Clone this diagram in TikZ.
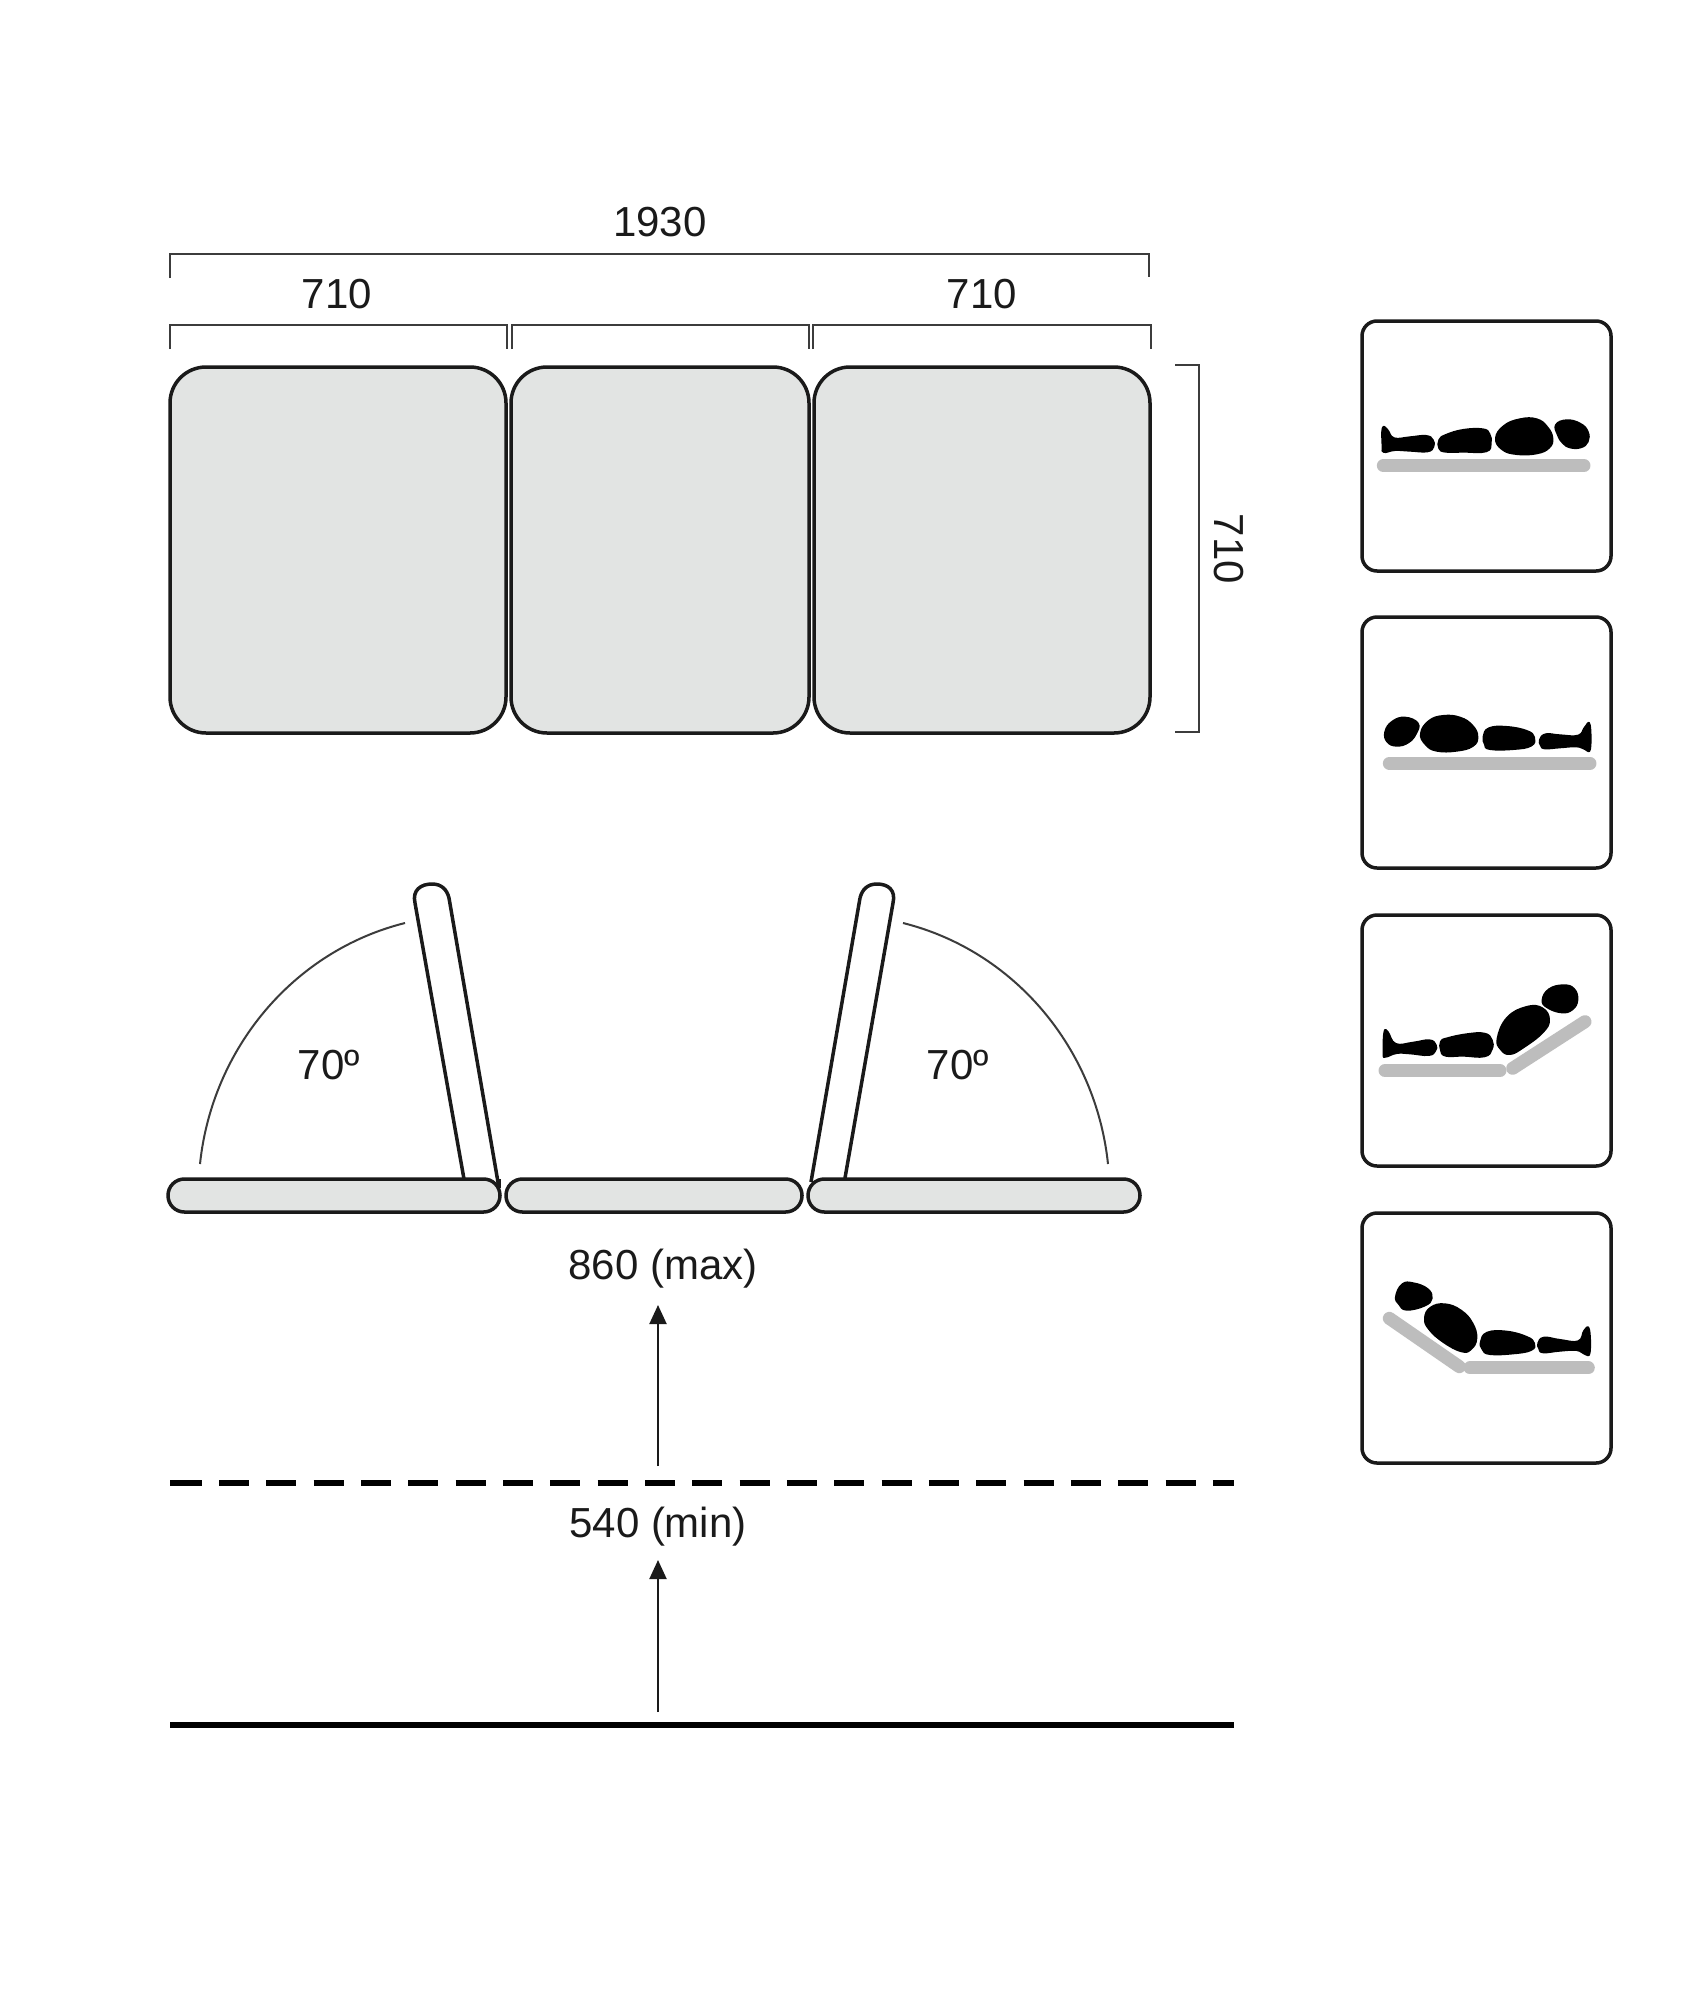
\documentclass[tikz,border=0pt]{standalone}
\usepackage{fontspec}
\setmainfont{Liberation Sans}
\usetikzlibrary{arrows.meta}
\definecolor{pad}{HTML}{E2E4E3}
\definecolor{ink}{HTML}{1A1A1A}
\definecolor{dim}{HTML}{3C3C3C}
\definecolor{bar}{HTML}{BDBDBD}
\newcommand{\blob}[1]{\filldraw[black,line width=2pt,line join=round] plot[smooth cycle,tension=0.75] coordinates {#1};}
\tikzset{
  padshape/.style={draw=ink,fill=pad,line width=3.5pt,rounded corners=36pt},
  railshape/.style={draw=ink,fill=pad,line width=3.5pt,rounded corners=16.4pt},
  backshape/.style={draw=ink,line width=3.5pt},
  dimline/.style={draw=dim,line width=2pt},
  sweep/.style={draw=dim,line width=2pt},
  iconbox/.style={draw=ink,fill=white,line width=3.5pt,rounded corners=15pt},
  mattress/.style={draw=bar,line width=13pt,line cap=round},
  label/.style={font=\fontsize{42}{50}\selectfont,text=ink,inner sep=0pt,anchor=base},
  rise/.style={draw=ink,line width=2pt,-{Triangle[length=19pt,width=17pt]}},
  level/.style={draw=black,line width=6.5pt},
}
\begin{document}
\begin{tikzpicture}[x=1pt,y=-1pt]
\useasboundingbox[fill=white] (0,0) rectangle (1700,2005);

% top view pads
\draw[padshape] (170,367) rectangle (506,733);
\draw[padshape] (511,367) rectangle (809,733);
\draw[padshape] (814,367) rectangle (1150,733);

% dimensions
\draw[dimline] (170,278) -- (170,254) -- (1149,254) -- (1149,277);
\draw[dimline] (170,349) -- (170,325) -- (507,325) -- (507,349);
\draw[dimline] (512,349) -- (512,325) -- (809,325) -- (809,349);
\draw[dimline] (813,349) -- (813,325) -- (1151,325) -- (1151,349);
\draw[dimline] (1175,365) -- (1199,365) -- (1199,732) -- (1175,732);
\node[label] (total) at (660,236) {1930};
\node[label] (wl) at (337,308) {710};
\node[label] (wr) at (982,308) {710};
\node[label,rotate=-90] (depth) at (1214,549) {710};

% side view
\draw[backshape] (415,903) .. controls (412,890) and (421,884) .. (432,884) .. controls (442,884) and (447,890) .. (449,898) -- (499,1188);
\draw[backshape] (415,903) -- (464,1179);
\draw[backshape] (860,898) .. controls (862,890) and (867,884) .. (877,884) .. controls (888,884) and (896,890) .. (893,903) -- (845,1178);
\draw[backshape] (860,898) -- (811,1182);
\draw[railshape] (168,1179) rectangle (500,1212);
\draw[railshape] (506,1179) rectangle (802,1212);
\draw[railshape] (808,1179) rectangle (1140,1212);
\draw[backshape] (499,1179) -- (499,1188);
\draw[sweep] (200,1164) .. controls (212,1049) and (293,951) .. (405,923);
\draw[sweep] (1108,1164) .. controls (1096,1049) and (1015,951) .. (903,923);
\node[label] (al) at (329,1079) {70º};
\node[label] (ar) at (958,1079) {70º};

% heights
\draw[level] (170,1483) -- (175,1483);
\draw[level,dash pattern=on 30pt off 17.33pt] (171.7,1483) -- (1234,1483);
\draw[level] (170,1725) -- (1234,1725);
\node[label] (hmax) at (663,1279) {860 (max)};
\node[label] (hmin) at (658,1537) {540 (min)};
\coordinate (a0) at (658,1466);
\coordinate (a1) at (658,1305);
\coordinate (b0) at (658,1712);
\coordinate (b1) at (658,1560);
\draw[rise] (a0) -- (a1);
\draw[rise] (b0) -- (b1);

% icons
\draw[iconbox] (1362,321) rectangle (1611,571);
\draw[iconbox] (1362,617) rectangle (1611,868);
\draw[iconbox] (1362,915) rectangle (1611,1166);
\draw[iconbox] (1362,1213) rectangle (1611,1463);

\begin{scope}[shift={(1330pt,-300pt)},x=0.3333pt,y=-0.3333pt]
\draw[mattress] (160,497) -- (762,497);
\blob{(158,385)(172,390)(192,415)(240,412)(288,408)(308,420)(310,440)(292,454)(240,452)(195,450)(162,456)(158,440)}
\blob{(328,420)(348,405)(400,390)(458,388)(478,402)(482,430)(468,454)(400,455)(347,455)(328,445)}
\blob{(498,415)(522,378)(570,358)(620,358)(652,382)(667,415)(657,443)(620,460)(560,462)(517,448)}
\blob{(678,375)(710,361)(750,371)(773,395)(773,425)(752,442)(720,442)(698,428)(684,405)}
\end{scope}
\begin{scope}[shift={(1330pt,-600pt)},x=0.3333pt,y=-0.3333pt]
\draw[mattress] (178,490) -- (780,490);
\blob{(166,395)(187,365)(225,353)(263,370)(258,400)(235,427)(200,437)(172,425)}
\blob{(273,400)(297,363)(340,348)(390,353)(427,377)(442,410)(428,438)(380,452)(320,452)(287,433)}
\blob{(461,410)(477,385)(530,381)(590,393)(612,412)(603,437)(550,447)(480,447)(465,433)}
\blob{(630,420)(647,403)(690,406)(745,407)(765,382)(779,374)(780,447)(765,447)(740,439)(690,442)(645,445)(633,436)}
\end{scope}
\begin{scope}[shift={(1330pt,-900pt)},x=0.3333pt,y=-0.3333pt]
\draw[mattress] (165,512) -- (510,512);
\draw[mattress] (548,505) -- (765,365);
\blob{(163,398)(173,396)(197,432)(250,428)(298,421)(317,435)(315,453)(295,465)(240,460)(200,459)(167,470)(161,460)}
\blob{(333,425)(352,415)(410,403)(463,401)(485,420)(485,448)(463,469)(400,467)(347,467)(333,450)}
\blob{(503,415)(532,353)(590,321)(637,325)(657,360)(637,398)(580,442)(540,462)(513,448)}
\blob{(638,300)(657,268)(700,256)(732,267)(742,300)(727,328)(695,337)(652,322)}
\end{scope}
\begin{scope}[shift={(1330pt,-1190pt)},x=0.3333pt,y=-0.3333pt]
\draw[mattress] (178,385) -- (388,530);
\draw[mattress] (420,534) -- (775,534);
\blob{(198,320)(217,283)(250,280)(292,297)(305,325)(283,347)(230,359)(208,343)}
\blob{(285,385)(302,353)(345,343)(393,362)(427,400)(439,445)(423,477)(395,484)(342,457)(298,418)}
\blob{(453,455)(472,428)(530,425)(590,441)(612,460)(603,480)(550,490)(480,492)(458,478)}
\blob{(625,460)(642,443)(690,450)(745,454)(763,422)(777,418)(779,487)(765,492)(740,480)(690,482)(640,487)(628,476)}
\end{scope}
\end{tikzpicture}
\end{document}
